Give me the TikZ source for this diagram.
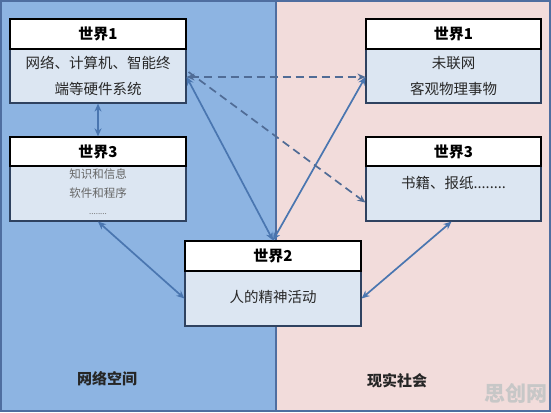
\documentclass[tikz,border=0pt]{standalone}
\usepackage{fontspec}
\setmainfont{Noto Sans CJK SC}
\usetikzlibrary{arrows.meta}
\definecolor{leftbg}{RGB}{141,180,226}
\definecolor{rightbg}{RGB}{242,220,219}
\definecolor{bodyfill}{RGB}{220,230,242}
\definecolor{arrowc}{RGB}{74,118,176}
\definecolor{dashc}{RGB}{80,108,150}
\definecolor{framec}{RGB}{79,110,160}
\definecolor{txt}{RGB}{40,40,40}
\tikzset{
  hdr/.style={draw=black, line width=1.3pt, fill=white, minimum width=176pt, minimum height=30pt, inner sep=0pt,
    font=\fontsize{15}{18}\selectfont\bfseries, text=black},
  bodybox/.style={draw=framec!60!black, line width=1.2pt, fill=bodyfill, minimum width=176pt, inner sep=0pt,
    align=center, text=txt},
  btext/.style={font=\fontsize{14.5}{26}\selectfont},
  stext/.style={font=\fontsize{11.5}{19}\selectfont, text=black!60},
  tip/.style={Stealth[length=8pt,width=7pt]},
  conn/.style={draw=arrowc, line width=1.7pt, {Stealth[length=8pt,width=7pt]}-{Stealth[length=8pt,width=7pt]}},
  dconn/.style={conn, draw=dashc, dash pattern=on 8pt off 5pt},
  lbl/.style={font=\fontsize{15}{18}\selectfont\bfseries, text=black!85}
}
\begin{document}
\begin{tikzpicture}[x=1pt,y=-1pt]
\useasboundingbox (0,0) rectangle (551,412);
% backgrounds
\fill[leftbg] (0,0) rectangle (276,412);
\fill[rightbg] (276,0) rectangle (551,412);
\draw[framec, line width=2pt] (276,0) -- (276,412);
\draw[framec, line width=2pt] (1,1) rectangle (550,411);

% left world 1
\node[bodybox, minimum height=54pt] (l1b) at (98,76) {};
\node[hdr] (l1h) at (98,34) {世界1};
\node[btext, text=txt, align=center] (l1t) at (98,76) {网络、计算机、智能终\\端等硬件系统};

% left world 3
\node[bodybox, minimum height=55pt] (l3b) at (98,193.5) {};
\node[hdr, minimum height=29pt] (l3h) at (98,151.5) {世界3};
\node[stext, align=center] (l3t) at (98,184) {知识和信息\\软件和程序};
\node[font=\fontsize{8}{9}\selectfont, text=black!55] (l3d) at (98,214) {........};

% world 2
\node[bodybox, minimum height=55pt] (w2b) at (273,298.5) {};
\node[hdr] (w2h) at (273,256) {世界2};
\node[btext, text=txt] (w2t) at (273,297) {人的精神活动};

% right world 1
\node[bodybox, minimum width=175pt, minimum height=54pt] (r1b) at (453.5,76) {};
\node[hdr, minimum width=175pt] (r1h) at (453.5,34) {世界1};
\node[btext, text=txt, align=center] (r1t) at (453.5,76) {未联网\\客观物理事物};

% right world 3
\node[bodybox, minimum width=175pt, minimum height=55pt] (r3b) at (453.5,193.5) {};
\node[hdr, minimum width=175pt, minimum height=29pt] (r3h) at (453.5,151.5) {世界3};
\node[btext, text=txt] (r3t) at (453.5,183) {书籍、报纸........};

% connectors
\draw[conn] (l1b.south) -- (l3h.north);
\draw[conn] ([yshift=-1pt]l1b.east) -- (w2h.north);
\draw[conn] (w2h.north) -- ([yshift=-1pt]r1b.west);
\draw[dconn] ([yshift=-1pt]l1b.east) -- ([yshift=-1pt]r1b.west);
\draw[dconn, -{Stealth[length=8pt,width=7pt]}] ([xshift=2pt,yshift=4pt]l1b.east) -- ([yshift=-9pt]r3b.west);
\draw[conn] (l3b.south) -- (w2b.west);
\draw[conn] ([xshift=-2pt]r3b.south) -- (w2b.east);

% region labels
\node[lbl] (netspace) at (107,379) {网络空间};
\node[lbl] (realsoc) at (397,381) {现实社会};
\node[font=\fontsize{21}{24}\selectfont\bfseries, text=white!78!black] (wm) at (516,393) {思创网};
\end{tikzpicture}
\end{document}
